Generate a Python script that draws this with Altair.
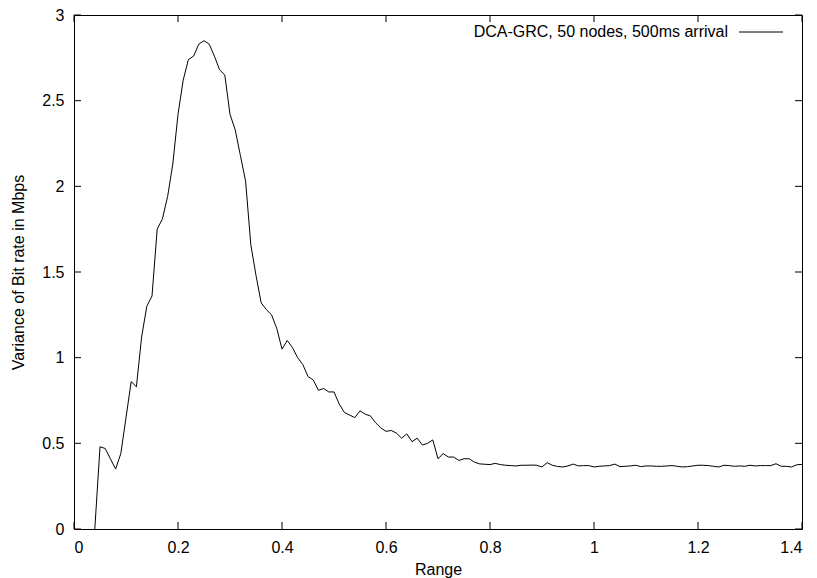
import altair as alt
import pandas as pd

# Range sampled every 0.01 from 0.04 to 1.40
range_start = 0.04
range_step = 0.01

variance = [
    0.00, 0.48, 0.47, 0.41, 0.35, 0.44, 0.65, 0.86, 0.83, 1.12,   # 0.04-0.13
    1.30, 1.36, 1.75, 1.81, 1.94, 2.13, 2.42, 2.62, 2.74, 2.76,   # 0.14-0.23
    2.83, 2.85, 2.83, 2.76, 2.68, 2.65, 2.42, 2.33, 2.18, 2.03,   # 0.24-0.33
    1.66, 1.48, 1.32, 1.28, 1.25, 1.17, 1.05, 1.10, 1.06, 1.00,   # 0.34-0.43
    0.96, 0.89, 0.87, 0.81, 0.82, 0.80, 0.80, 0.73, 0.68, 0.665,  # 0.44-0.53
    0.65, 0.69, 0.67, 0.66, 0.62, 0.59, 0.57, 0.575, 0.56, 0.53,  # 0.54-0.63
    0.555, 0.51, 0.53, 0.49, 0.50, 0.52, 0.41, 0.44, 0.42, 0.42,  # 0.64-0.73
    0.40, 0.41, 0.41, 0.39, 0.38, 0.378, 0.376, 0.383, 0.376, 0.372,  # 0.74-0.83
    0.370, 0.368, 0.372, 0.372, 0.373, 0.372, 0.362, 0.387, 0.372, 0.365,  # 0.84-0.93
    0.362, 0.368, 0.379, 0.368, 0.370, 0.370, 0.362, 0.366, 0.368, 0.370,  # 0.94-1.03
    0.379, 0.364, 0.366, 0.368, 0.372, 0.364, 0.368, 0.368, 0.366, 0.366,  # 1.04-1.13
    0.368, 0.370, 0.366, 0.362, 0.364, 0.368, 0.372, 0.372, 0.370, 0.366,  # 1.14-1.23
    0.362, 0.372, 0.370, 0.366, 0.368, 0.366, 0.372, 0.368, 0.370, 0.370,  # 1.24-1.33
    0.370, 0.381, 0.366, 0.366, 0.362, 0.375, 0.377,                     # 1.34-1.40
]
x_ticks = [0, 0.2, 0.4, 0.6, 0.8, 1.0, 1.2, 1.4]
y_ticks = [0, 0.5, 1, 1.5, 2, 2.5, 3]
legend_label = "DCA-GRC, 50 nodes, 500ms arrival"

ranges = [round(range_start + i * range_step, 2) for i in range(len(variance))]
df = pd.DataFrame({"x": ranges, "y": variance})
xt = pd.DataFrame({"x": x_ticks})
yt = pd.DataFrame({"y": y_ticks})

W, H = 728, 514
FONT = "Liberation Sans"
xscale = alt.Scale(domain=[0, 1.4], nice=False, zero=False)
yscale = alt.Scale(domain=[0, 3], nice=False, zero=False)

xaxis = alt.Axis(values=x_ticks, format="~g", title="Range",
                 titleX=W / 2, titleY=45, titleBaseline="alphabetic",
                 labelPadding=10)
yaxis = alt.Axis(values=y_ticks, format="~g",
                 title="Variance of Bit rate in Mbps",
                 titleX=-56, titleY=H / 2, titleAngle=-90,
                 titleAlign="center", titleBaseline="middle",
                 labelPadding=10)

line = alt.Chart(df).mark_line(color="black", strokeWidth=1).encode(
    x=alt.X("x:Q", scale=xscale, axis=xaxis),
    y=alt.Y("y:Q", scale=yscale, axis=yaxis),
)

TL = 7
bottom_ticks = alt.Chart(xt).mark_rule(color="black").encode(
    x=alt.X("x:Q", scale=xscale, axis=xaxis),
    y=alt.value(H), y2=alt.value(H - TL))
top_ticks = alt.Chart(xt).mark_rule(color="black").encode(
    x=alt.X("x:Q", scale=xscale, axis=xaxis),
    y=alt.value(0), y2=alt.value(TL))
left_ticks = alt.Chart(yt).mark_rule(color="black").encode(
    y=alt.Y("y:Q", scale=yscale, axis=yaxis),
    x=alt.value(0), x2=alt.value(TL))
right_ticks = alt.Chart(yt).mark_rule(color="black").encode(
    y=alt.Y("y:Q", scale=yscale, axis=yaxis),
    x=alt.value(W), x2=alt.value(W - TL))

legend_df = pd.DataFrame({"label": [legend_label]})
legend_text = alt.Chart(legend_df).mark_text(
    align="right", baseline="alphabetic", font=FONT, fontSize=16, color="black"
).encode(text="label:N", x=alt.value(654), y=alt.value(22))
legend_line = alt.Chart(legend_df).mark_rule(color="black", strokeWidth=1).encode(
    x=alt.value(665), x2=alt.value(709), y=alt.value(17))

chart = alt.layer(
    line, bottom_ticks, top_ticks, left_ticks, right_ticks, legend_text, legend_line
).properties(
    width=W, height=H,
    autosize=alt.AutoSizeParams(type="none"),
    padding={"left": 66, "top": 7, "right": 5, "bottom": 50},
).configure_view(
    stroke="black", strokeWidth=1
).configure_axis(
    domain=False, ticks=False, grid=False,
    labelFont=FONT, labelFontSize=16, labelColor="black",
    titleFont=FONT, titleFontSize=16, titleColor="black", titleFontWeight="normal",
)

chart.save("out.html", embed_options={"renderer": "svg", "actions": False})
